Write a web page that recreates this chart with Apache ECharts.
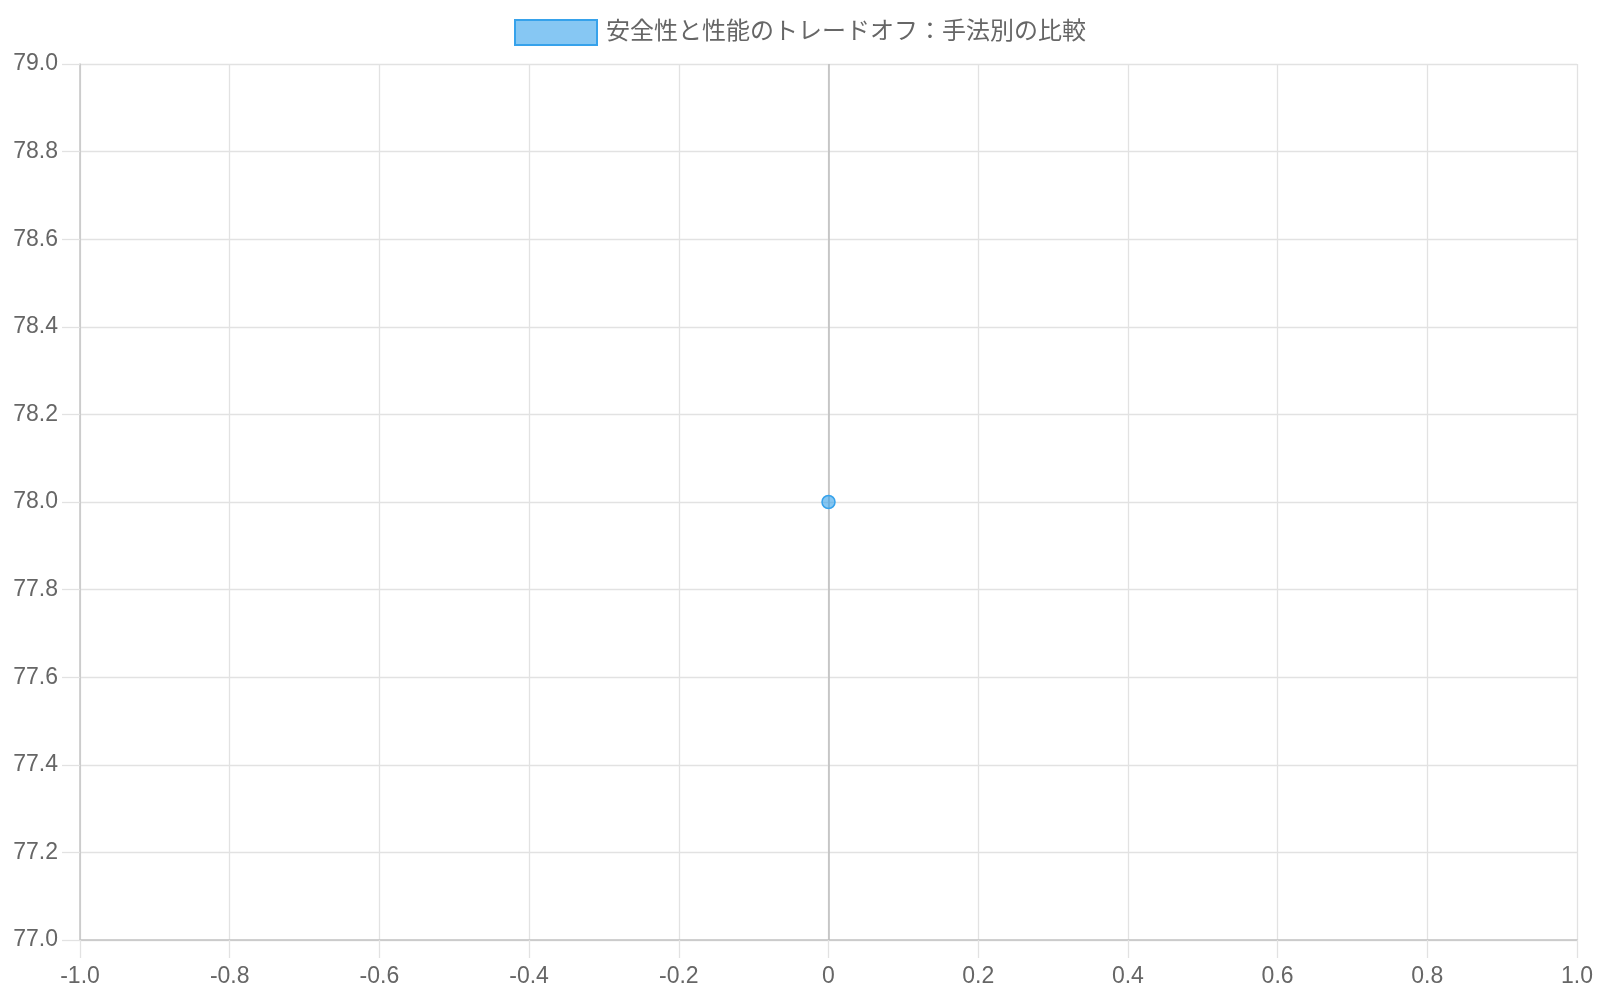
<!DOCTYPE html>
<html>
<head>
<meta charset="utf-8">
<script src="https://cdn.jsdelivr.net/npm/echarts@6/dist/echarts.min.js"></script>
<style>
html,body{margin:0;padding:0;background:#fff;}
#chart{width:1600px;height:1000px;}
</style>
</head>
<body>
<div id="chart"></div>
<script>
const seriesName = '安全性と性能のトレードオフ：手法別の比較';
const xValues = [0];
const yValues = [78];
const xRange = [-1, 1, 0.2];
const yRange = [77, 79, 0.2];

const FONT = '"Liberation Sans", Arial, "Noto Sans CJK JP", sans-serif';
const points = xValues.map((x, i) => [x, yValues[i]]);

const chart = echarts.init(document.getElementById('chart'));
chart.setOption({
  animation: false,
  textStyle: { fontFamily: FONT },
  legend: {
    top: 14,
    left: 'center',
    itemWidth: 82,
    itemHeight: 25,
    itemGap: 10,
    icon: 'rect',
    textStyle: { color: '#666', fontSize: 24, fontFamily: FONT, padding: [0, 0, 0, 4] },
    data: [seriesName]
  },
  grid: { left: 80, right: 23, top: 64, bottom: 60, containLabel: false },
  xAxis: {
    type: 'value',
    min: xRange[0], max: xRange[1], interval: xRange[2],
    axisLine: { show: true, onZero: false, lineStyle: { color: '#c4c4c4', width: 1.5 } },
    axisTick: { show: true, length: 18, lineStyle: { color: '#e2e2e2', width: 1.3 } },
    splitLine: { show: true, lineStyle: { color: '#e2e2e2', width: 1.3 } },
    axisLabel: {
      color: '#666', fontSize: 23, margin: 25, fontFamily: FONT,
      formatter: v => Math.abs(v) < 1e-9 ? '0' : v.toFixed(1)
    }
  },
  yAxis: {
    type: 'value',
    min: yRange[0], max: yRange[1], interval: yRange[2],
    axisLine: { show: true, onZero: false, lineStyle: { color: '#c4c4c4', width: 1.5 } },
    axisTick: { show: true, length: 18, lineStyle: { color: '#e2e2e2', width: 1.3 } },
    splitLine: { show: true, lineStyle: { color: '#e2e2e2', width: 1.3 } },
    axisLabel: {
      color: '#666', fontSize: 23, margin: 22, fontFamily: FONT,
      formatter: v => v.toFixed(1)
    }
  },
  series: [{
    name: seriesName,
    type: 'scatter',
    symbol: 'circle',
    symbolSize: 13,
    data: points,
    itemStyle: {
      color: 'rgba(54,162,235,0.6)',
      borderColor: '#36a2eb',
      borderWidth: 1.5,
      opacity: 1
    },
    markLine: {
      silent: true,
      symbol: ['none', 'none'],
      label: { show: false },
      lineStyle: { color: '#bdbdbd', type: 'solid', width: 1.5 },
      data: [{ xAxis: 0 }],
      z: 1
    },
    z: 5
  }]
});
</script>
</body>
</html>
